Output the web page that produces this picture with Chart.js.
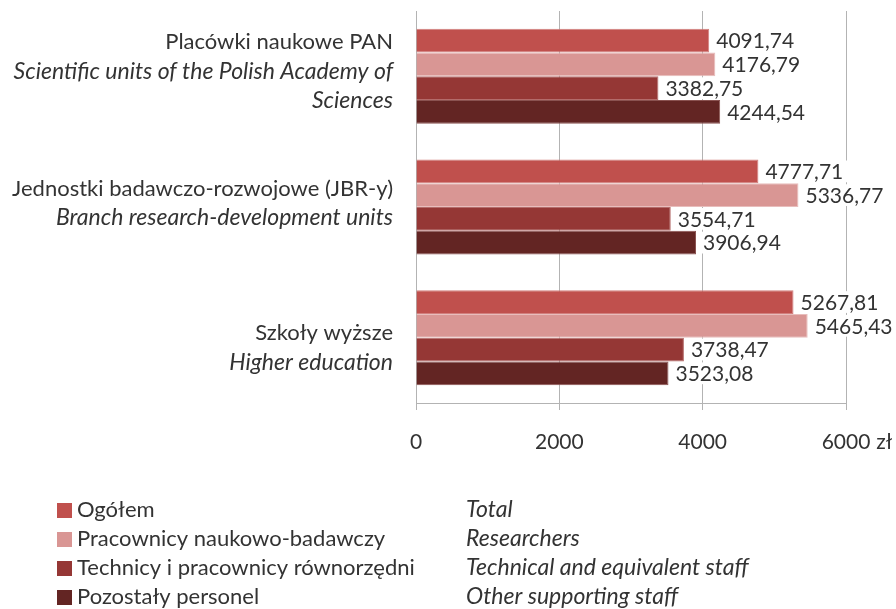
<!DOCTYPE html>
<html>
<head>
<meta charset="utf-8">
<script src="https://cdn.jsdelivr.net/npm/chart.js@4.4.0/dist/chart.umd.min.js"></script>
<style>
  html, body { margin: 0; padding: 0; background: #ffffff; }
  #wrap { width: 896px; height: 609px; }
</style>
</head>
<body>
<div id="wrap"><canvas id="salaryChart" width="896" height="609"></canvas></div>
<script>
const categoriesPl = ["Placówki naukowe PAN", "Jednostki badawczo-rozwojowe (JBR-y)", "Szkoły wyższe"];
const categoriesEn = [
  ["Scientific units of the Polish Academy of", "Sciences"],
  ["Branch research-development units"],
  ["Higher education"],
];
const seriesPl = ["Ogółem", "Pracownicy naukowo-badawczy", "Technicy i pracownicy równorzędni", "Pozostały personel"];
const seriesEn = ["Total", "Researchers", "Technical and equivalent staff", "Other supporting staff"];
const totalValues = [4091.74, 4777.71, 5267.81];
const researcherValues = [4176.79, 5336.77, 5465.43];
const technicalValues = [3382.75, 3554.71, 3738.47];
const otherValues = [4244.54, 3906.94, 3523.08];
const xTicks = [0, 2000, 4000, 6000];
const unitLabel = "zł";

const colors = ["#c0504d", "#d99694", "#953735", "#632523"];
const edgeColors = ["#d27f7d", "#e8bdbc", "#b46b6a", "#8a5250"];
const textColor = "#333333";
const fontFamily = "Lato, 'Open Sans', sans-serif";
const numSize = 21;
const textSize = 22;
const italicSize = 23;

// small vertical nudges so the category text sits like the original
const labelShift = [-5, -4, 10];

const seriesValues = [totalValues, researcherValues, technicalValues, otherValues];

function formatValue(v) {
  return v.toFixed(2).replace(".", ",");
}

const valueLabels = {
  id: "valueLabels",
  afterDatasetsDraw(chart) {
    const ctx = chart.ctx;
    ctx.save();
    ctx.font = `${numSize}px ${fontFamily}`;
    ctx.textBaseline = "middle";
    ctx.textAlign = "left";
    chart.data.datasets.forEach((ds, di) => {
      const meta = chart.getDatasetMeta(di);
      meta.data.forEach((bar, i) => {
        const text = formatValue(ds.data[i]);
        const w = ctx.measureText(text).width;
        const h = bar.height;
        ctx.fillStyle = "#ffffff";
        ctx.fillRect(bar.x + 2, bar.y - h / 2 + 1, w + 10, h - 2);
        ctx.fillStyle = textColor;
        ctx.fillText(text, bar.x + 7, bar.y + 1);
      });
    });
    ctx.restore();
  },
};

const sideText = {
  id: "sideText",
  afterDraw(chart) {
    const ctx = chart.ctx;
    const yScale = chart.scales.y;
    const xScale = chart.scales.x;
    ctx.save();
    ctx.fillStyle = textColor;
    ctx.textBaseline = "middle";

    // category labels, Polish upright and English italic
    ctx.textAlign = "right";
    const lineH = 29;
    categoriesPl.forEach((pl, i) => {
      const lines = [[pl, false]].concat(categoriesEn[i].map((t) => [t, true]));
      const yc = yScale.getPixelForValue(i) + labelShift[i];
      let y = yc - ((lines.length - 1) * lineH) / 2;
      lines.forEach(([t, italic]) => {
        ctx.font = italic ? `italic ${italicSize}px ${fontFamily}` : `${textSize}px ${fontFamily}`;
        ctx.fillText(t, chart.chartArea.left - 23, y);
        y += lineH;
      });
    });

    // unit after the last tick label
    ctx.font = `${numSize}px ${fontFamily}`;
    ctx.textAlign = "left";
    const last = xTicks[xTicks.length - 1];
    const lw = ctx.measureText(String(last)).width;
    ctx.fillText(unitLabel, xScale.getPixelForValue(last) + lw / 2 + 6, 442);

    // legend in two columns
    const rows = [510, 539, 568, 597];
    seriesPl.forEach((name, i) => {
      ctx.fillStyle = colors[i];
      ctx.fillRect(57, rows[i] - 7, 15, 15);
      ctx.fillStyle = textColor;
      ctx.font = `${textSize}px ${fontFamily}`;
      ctx.fillText(name, 77, rows[i]);
      ctx.font = `italic ${italicSize}px ${fontFamily}`;
      ctx.fillText(seriesEn[i], 466, rows[i]);
    });
    ctx.restore();
  },
};

new Chart(document.getElementById("salaryChart"), {
  type: "bar",
  data: {
    labels: categoriesPl,
    datasets: seriesValues.map((vals, i) => ({
      label: seriesPl[i],
      data: vals,
      backgroundColor: colors[i],
      borderColor: edgeColors[i],
      borderWidth: 1,
      categoryPercentage: 0.727,
      barPercentage: 1.0,
    })),
  },
  options: {
    indexAxis: "y",
    responsive: false,
    animation: false,
    layout: { padding: { top: 11, right: 50, bottom: 0, left: 0 } },
    plugins: {
      legend: { display: false },
      tooltip: { enabled: false },
    },
    scales: {
      x: {
        min: xTicks[0],
        max: xTicks[xTicks.length - 1],
        afterBuildTicks: (scale) => {
          scale.ticks = xTicks.map((v) => ({ value: v }));
        },
        afterFit: (scale) => {
          scale.height = 206;
        },
        grid: { color: "#b3b3b3", tickLength: 7, drawTicks: true },
        border: { display: true, color: "#b3b3b3" },
        ticks: {
          color: textColor,
          padding: 20,
          maxRotation: 0,
          callback: (v) => String(v),
          font: { family: fontFamily, size: numSize },
        },
      },
      y: {
        afterFit: (scale) => {
          scale.width = 416;
        },
        grid: { display: false },
        border: { display: true, color: "#b3b3b3" },
        ticks: { display: false },
      },
    },
  },
  plugins: [valueLabels, sideText],
});
</script>
</body>
</html>
